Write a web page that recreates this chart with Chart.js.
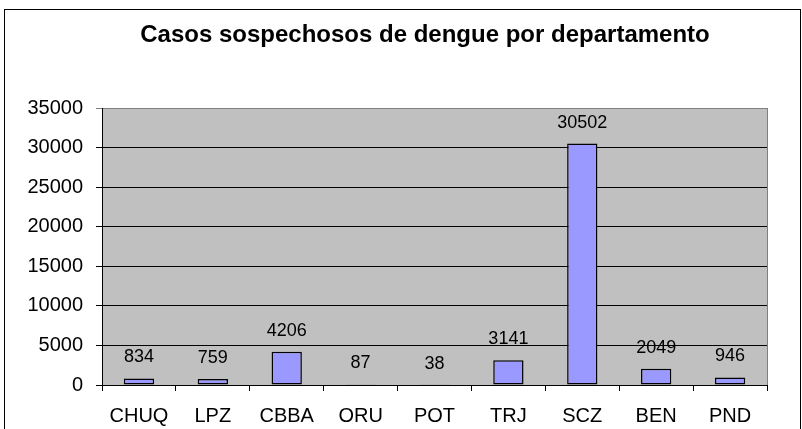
<!DOCTYPE html>
<html>
<head>
<meta charset="utf-8">
<script src="https://cdn.jsdelivr.net/npm/chart.js@4"></script>
<style>
  html, body { margin: 0; padding: 0; background: #fff; }
  #wrap { position: relative; width: 802px; height: 429px; }
</style>
</head>
<body>
<div id="wrap"><canvas id="chart" width="802" height="429"></canvas></div>
<script>
//chart data
const departamentos = ["CHUQ", "LPZ", "CBBA", "ORU", "POT", "TRJ", "SCZ", "BEN", "PND"];
const casos = [834, 759, 4206, 87, 38, 3141, 30502, 2049, 946];
const titulo = "Casos sospechosos de dengue por departamento";
const y_max = 35000;
const y_step = 5000;

const FONT = "'Liberation Sans', Arial, sans-serif";

//grey plot area, outer frame and title
const frame_plugin = {
	id: "frame",
	beforeDraw(chart) {
		const c = chart.ctx;
		const a = chart.chartArea;
		c.save();
		c.fillStyle = "#fff";
		c.fillRect(0, 0, chart.width, chart.height);
		c.strokeStyle = "#000";
		c.lineWidth = 1;
		c.strokeRect(4.5, 9.5, chart.width - 6, chart.height + 10);
		c.fillStyle = "#c0c0c0";
		c.fillRect(a.left, a.top, a.right - a.left, a.bottom - a.top);
		c.strokeStyle = "#808080";
		c.beginPath();
		c.moveTo(a.right + 0.5, a.top);
		c.lineTo(a.right + 0.5, a.bottom);
		c.stroke();
		//title
		c.fillStyle = "#000";
		c.font = "bold 24px " + FONT;
		c.textAlign = "center";
		c.textBaseline = "alphabetic";
		c.fillText(titulo, 425, 42);
		c.restore();
	}
};

//value labels over each bar
const labels_plugin = {
	id: "valueLabels",
	afterDatasetsDraw(chart) {
		const c = chart.ctx;
		const meta = chart.getDatasetMeta(0);
		c.save();
		c.font = "18px " + FONT;
		c.fillStyle = "#000";
		c.textAlign = "center";
		c.textBaseline = "middle";
		meta.data.forEach((bar, i) => {
			c.fillText(String(casos[i]), bar.x, bar.y - 21);
		});
		c.restore();
	}
};

const ctx = document.getElementById("chart").getContext("2d");

let my_chart = new Chart(ctx, {
	type: "bar",
	data: {
		labels: departamentos,
		datasets: [{
			data: casos,
			backgroundColor: "#9999ff",
			borderColor: "#000",
			borderWidth: 1.5,
			borderSkipped: false,
			categoryPercentage: 0.41,
			barPercentage: 1
		}]
	},
	options: {
		responsive: false,
		animation: false,
		devicePixelRatio: 1,
		layout: { padding: { left: 5, right: 35, top: 108, bottom: 0 } },
		plugins: {
			legend: { display: false },
			tooltip: { enabled: false },
			title: { display: false }
		},
		scales: {
			x: {
				offset: true,
				grid: {
					offset: true,
					drawOnChartArea: false,
					drawTicks: true,
					tickLength: 6,
					color: "#000"
				},
				border: { color: "#000", width: 1 },
				ticks: {
					color: "#000",
					padding: 13,
					font: { family: FONT, size: 20 }
				},
				afterFit(scale) { scale.height = 44; }
			},
			y: {
				min: 0,
				max: y_max,
				ticks: {
					stepSize: y_step,
					color: "#000",
					padding: 13,
					font: { family: FONT, size: 20 },
					callback: v => String(v)
				},
				grid: {
					color: c => (c.tick && c.tick.value === y_max) ? "#808080" : "#000",
					tickLength: 6,
					lineWidth: 1
				},
				border: { color: "#000", width: 1 },
				afterFit(scale) { scale.width = 97; }
			}
		}
	},
	plugins: [frame_plugin, labels_plugin]
});
</script>
</body>
</html>
